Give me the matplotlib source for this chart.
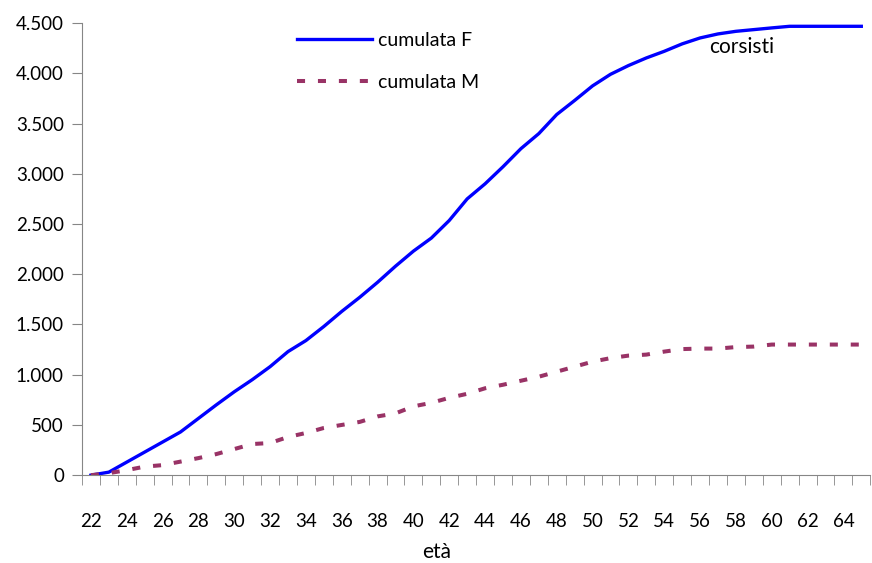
import numpy as np
import matplotlib.pyplot as plt
from matplotlib.ticker import FuncFormatter

plt.rcParams['font.family'] = ['Lato', 'DejaVu Sans']

eta = list(range(22, 66))
cumulata_f = [0, 30, 130, 230, 330, 430, 565, 700, 830, 950, 1080, 1230, 1340,
              1480, 1630, 1770, 1920, 2080, 2230, 2360, 2535, 2750, 2900, 3070,
              3250, 3400, 3590, 3730, 3875, 3990, 4077, 4153, 4219, 4293, 4352,
              4392, 4418, 4435, 4452, 4468, 4468, 4468, 4468, 4468]
cumulata_m = [0, 20, 50, 85, 100, 135, 170, 210, 260, 310, 320, 380, 420, 470,
              500, 530, 585, 615, 685, 720, 770, 810, 865, 900, 940, 980, 1030,
              1080, 1130, 1165, 1190, 1200, 1230, 1255, 1260, 1260, 1275, 1280,
              1300, 1300, 1300, 1300, 1300, 1300]
etichette = [str(a) for a in eta if a % 2 == 0]

fig = plt.figure(figsize=(8.72, 5.63), dpi=100)
ax = fig.add_axes([0.094, 0.156, 0.904, 0.803])

ax.plot(eta, cumulata_f, color='#0000FF', lw=2.4, label='cumulata F')
ax.plot(eta, cumulata_m, color='#993366', lw=2.9, dashes=(2, 3.2),
        label='cumulata M')

ax.set_xlim(21.5, 65.5)
ax.set_ylim(0, 4500)
ax.set_yticks(np.arange(0, 4501, 500))
ax.yaxis.set_major_formatter(FuncFormatter(lambda v, p: f'{int(v):,}'.replace(',', '.')))

# tick marks between categories, labels on every other category
ax.set_xticks(np.arange(21.5, 66, 1), minor=True)
ax.set_xticks([a for a in eta if a % 2 == 0])
ax.set_xticklabels(etichette)
ax.tick_params(axis='x', which='minor', length=7, color='#868686')
ax.tick_params(axis='x', which='major', length=0, pad=27, labelsize=13.5)
ax.tick_params(axis='y', length=7, color='#868686', labelsize=13.5, pad=6)

for s in ['top', 'right']:
    ax.spines[s].set_visible(False)
for s in ['left', 'bottom']:
    ax.spines[s].set_color('#868686')

ax.legend(loc='upper left', bbox_to_anchor=(0.25, 1.02), frameon=False,
          fontsize=14, handlelength=3.9, handletextpad=0.3, labelspacing=1.3)

ax.text(58.3, 4266, 'corsisti', fontsize=15, ha='center', va='center')
fig.text(0.501, 0.009, 'età', fontsize=15, ha='center', va='baseline')

fig.savefig('out.png', dpi=100)
